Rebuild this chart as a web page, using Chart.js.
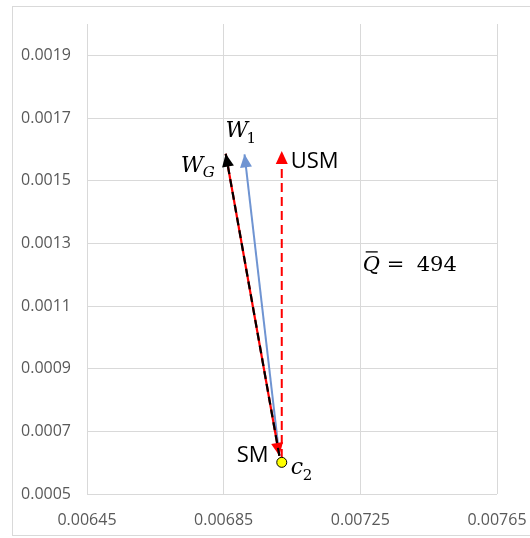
<!DOCTYPE html>
<html><head><meta charset="utf-8">
<script src="https://cdn.jsdelivr.net/npm/chart.js@4"></script>
<style>html,body{margin:0;padding:0;background:#fff}</style>
</head><body>
<canvas id="c" width="530" height="538"></canvas>
<script>
// ---- data ----
const xTicks = [0.00645, 0.00685, 0.00725, 0.00765];
const yTicks = [0.0005, 0.0007, 0.0009, 0.0011, 0.0013, 0.0015, 0.0017, 0.0019];
const xRange = [0.00645, 0.00765];
const yRange = [0.0005, 0.0020];

const c2X = [0.00702];  const c2Y = [0.000601];
const usmX = [0.00702, 0.00702];   const usmY = [0.000615, 0.001595];
const smX  = [0.006856, 0.007013]; const smY  = [0.001586, 0.000622];
const wgX  = [0.007013, 0.006856]; const wgY  = [0.000622, 0.001586];
const w1X  = [0.007013, 0.006911]; const w1Y  = [0.000622, 0.001584];
const qBarValue = 494;
const qLabelPos = [0.007257, 0.00122];

const pts = (xs, ys) => xs.map((x, i) => ({x, y: ys[i]}));

const MATH = '"DejaVu Serif", "Liberation Serif", serif';
const SANS = '"Open Sans", "Noto Sans", sans-serif';

const frame = {
  id: 'frame',
  beforeDraw(chart) {
    const ctx = chart.ctx;
    ctx.save();
    ctx.fillStyle = '#fff';
    ctx.fillRect(0, 0, chart.width, chart.height);
    ctx.strokeStyle = '#d9d9d9';
    ctx.lineWidth = 1;
    ctx.strokeRect(12.5, 6.5, 600, 529);
    ctx.restore();
  }
};

const arrows = {
  id: 'arrows',
  afterDatasetDraw(chart, args) {
    const ds = chart.data.datasets[args.index];
    if (!ds.arrow) return;
    const d = args.meta.data;
    const p1 = d[d.length - 2], p2 = d[d.length - 1];
    const a = Math.atan2(p2.y - p1.y, p2.x - p1.x);
    const L = 13, W = 6;
    const bx = p2.x - L * Math.cos(a), by = p2.y - L * Math.sin(a);
    const ctx = chart.ctx;
    ctx.save();
    ctx.fillStyle = ds.arrowColor;
    ctx.beginPath();
    ctx.moveTo(p2.x, p2.y);
    ctx.lineTo(bx + W * Math.sin(a), by - W * Math.cos(a));
    ctx.lineTo(bx - W * Math.sin(a), by + W * Math.cos(a));
    ctx.closePath();
    ctx.fill();
    ctx.restore();
  }
};

const labels = {
  id: 'labels',
  afterDraw(chart) {
    const ctx = chart.ctx, sx = chart.scales.x, sy = chart.scales.y;
    const P = (x, y) => ({x: sx.getPixelForValue(x), y: sy.getPixelForValue(y)});
    const t = (s, x, y, font) => { ctx.font = font; ctx.fillText(s, x, y); };
    ctx.save();
    ctx.fillStyle = '#000';
    ctx.textAlign = 'left';
    ctx.textBaseline = 'alphabetic';
    const w1 = P(w1X[1], w1Y[1]);
    t('W', w1.x - 19, w1.y - 17, 'italic 22px ' + MATH);
    t('1', w1.x + 2, w1.y - 11, '15px ' + MATH);
    const wg = P(wgX[1], wgY[1]);
    t('W', wg.x - 45, wg.y + 18, 'italic 22px ' + MATH);
    t('G', wg.x - 23, wg.y + 23, 'italic 15px ' + MATH);
    const us = P(usmX[1], usmY[1]);
    t('USM', us.x + 9, us.y + 17, '22px ' + SANS);
    const c2 = P(c2X[0], c2Y[0]);
    t('SM', c2.x - 45, c2.y, '22px ' + SANS);
    t('c', c2.x + 9, c2.y + 12, 'italic 22px ' + MATH);
    t('2', c2.x + 21, c2.y + 18, '15px ' + MATH);
    const q = P(qLabelPos[0], qLabelPos[1]);
    t('Q', q.x, q.y + 3, 'italic 21px ' + MATH);
    ctx.strokeStyle = '#000';
    ctx.lineWidth = 1.3;
    ctx.beginPath();
    ctx.moveTo(q.x + 3, q.y - 16.5);
    ctx.lineTo(q.x + 15, q.y - 16.5);
    ctx.stroke();
    t('=', q.x + 24, q.y + 3, '21px ' + MATH);
    t(String(qBarValue), q.x + 54, q.y + 3, '21px ' + MATH);
    ctx.restore();
  }
};

new Chart(document.getElementById('c'), {
  type: 'scatter',
  data: {
    datasets: [
      { data: pts(c2X, c2Y), order: 0, pointRadius: 5, pointBackgroundColor: '#FFFF00',
        pointBorderColor: '#000', pointBorderWidth: 1, showLine: false },
      { data: pts(wgX, wgY), order: 1, showLine: true, borderColor: '#000', borderWidth: 2.2,
        borderDash: [8, 5], pointRadius: 0, arrow: true, arrowColor: '#000' },
      { data: pts(smX, smY), order: 2, showLine: true, borderColor: '#FF0000', borderWidth: 2.2,
        pointRadius: 0, arrow: true, arrowColor: '#FF0000' },
      { data: pts(w1X, w1Y), order: 3, showLine: true, borderColor: '#6F94D2', borderWidth: 2,
        pointRadius: 0, arrow: true, arrowColor: '#6F94D2' },
      { data: pts(usmX, usmY), order: 4, showLine: true, borderColor: '#FF0000', borderWidth: 2,
        borderDash: [9, 5], pointRadius: 0, arrow: true, arrowColor: '#FF0000' }
    ]
  },
  options: {
    responsive: false,
    devicePixelRatio: 1,
    animation: false,
    layout: { padding: { left: 0, top: 24, right: 33, bottom: 0 } },
    plugins: { legend: { display: false }, tooltip: { enabled: false } },
    scales: {
      x: {
        type: 'linear', min: xRange[0], max: xRange[1],
        afterBuildTicks: s => { s.ticks = xTicks.map(v => ({value: v})); },
        afterFit: s => { s.height = 44; s.paddingLeft = 0; s.paddingRight = 0; },
        grid: { color: '#d9d9d9', lineWidth: 1, drawTicks: false },
        border: { display: false },
        ticks: { callback: v => v.toFixed(5), color: '#595959', padding: 17,
                 maxRotation: 0, autoSkip: false, font: { family: SANS, size: 16 } }
      },
      y: {
        type: 'linear', min: yRange[0], max: yRange[1],
        afterBuildTicks: s => { s.ticks = yTicks.map(v => ({value: v})); },
        afterFit: s => { s.width = 87; s.paddingTop = 0; s.paddingBottom = 0; },
        grid: { color: '#d9d9d9', lineWidth: 1, drawTicks: false },
        border: { display: false },
        ticks: { callback: v => v.toFixed(4), color: '#595959', padding: 16,
                 autoSkip: false, font: { family: SANS, size: 16 } }
      }
    }
  },
  plugins: [frame, arrows, labels]
});
</script>
</body></html>
